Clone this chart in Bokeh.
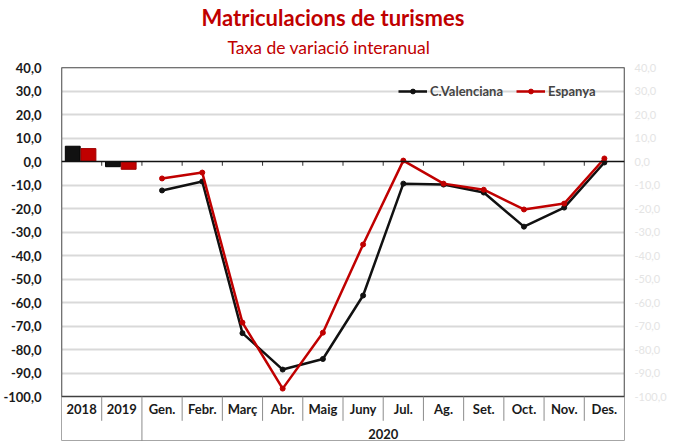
from bokeh.plotting import figure
from bokeh.models import (FactorRange, Range1d, FixedTicker, LinearAxis, Title,
                          Legend, LegendItem, Span)
from bokeh.transform import dodge
from bokeh.core.properties import value
from bokeh.embed import file_html
from bokeh.resources import INLINE

# ---- data ----
categories = ["2018", "2019", "Gen.", "Febr.", "Març", "Abr.", "Maig", "Juny",
              "Jul.", "Ag.", "Set.", "Oct.", "Nov.", "Des."]
bar_years = ["2018", "2019"]
bar_cv = [6.5, -2.2]
bar_esp = [5.5, -3.3]
months = categories[2:]
cv_2020 = [-12.3, -8.5, -73.0, -88.5, -84.0, -57.0, -9.4, -9.8, -13.2, -27.7, -19.6, -0.4]
esp_2020 = [-7.2, -4.7, -68.5, -96.6, -72.8, -35.3, 0.4, -9.4, -12.0, -20.4, -17.9, 1.3]
y_ticks = [40, 30, 20, 10, 0, -10, -20, -30, -40, -50, -60, -70, -80, -90, -100]
group_label = "2020"
title_text = "Matriculacions de turismes"
subtitle_text = "Taxa de variació interanual"

FONT = "Lato"
BLACK = "#111111"
RED = "#c00000"
Y_MIN_PLOT = -100
Y_MAX_PLOT = 40
Y_BOTTOM = -119.1

p = figure(width=676, height=441, x_range=FactorRange(*categories),
           y_range=Range1d(Y_BOTTOM, Y_MAX_PLOT),
           output_backend="svg", toolbar_location=None,
           x_axis_location=None, min_border_left=60, min_border_right=52,
           min_border_bottom=0, min_border_top=67)
p.background_fill_color = "white"
p.border_fill_color = "white"
p.outline_line_color = "#a6a6a6"
p.outline_line_width = 1
p.xgrid.grid_line_color = None
p.ygrid.ticker = FixedTicker(ticks=[t for t in y_ticks if Y_MIN_PLOT < t < Y_MAX_PLOT and t != 0])
p.ygrid.grid_line_color = "#d9d9d9"
p.ygrid.grid_line_width = 2

labels = {t: f"{t:.1f}".replace(".", ",") for t in y_ticks}
yax = p.yaxis[0]
yax.ticker = FixedTicker(ticks=y_ticks)
yax.major_label_overrides = labels
yax.axis_line_color = None
yax.major_tick_line_color = None
yax.minor_tick_line_color = None
yax.major_label_standoff = 14
yax.major_label_text_font = FONT
yax.major_label_text_font_style = "bold"
yax.major_label_text_font_size = "13px"
yax.major_label_text_color = "#1a1a1a"

rax = LinearAxis(ticker=FixedTicker(ticks=y_ticks), major_label_overrides=labels)
rax.axis_line_color = None
rax.major_tick_line_color = None
rax.minor_tick_line_color = None
rax.major_label_standoff = 4
rax.major_label_text_font = FONT
rax.major_label_text_font_size = "11px"
rax.major_label_text_color = "#e4e4e4"
p.add_layout(rax, "right")

# plot box
n = len(categories)
p.quad(left=0, right=n, top=Y_MAX_PLOT, bottom=Y_MIN_PLOT, fill_color=None,
       line_color="#404040", line_width=1.5)
p.add_layout(Span(location=0, dimension="width", line_color="#111111", line_width=1.5))
bounds = list(range(1, n))
p.segment(x0=bounds, y0=[0] * len(bounds), x1=bounds, y1=[-1.8] * len(bounds),
          line_color="#333333", line_width=1)

# category separators below the axis
short = [b for b in bounds if b != len(bar_years)]
p.segment(x0=short, y0=[Y_MIN_PLOT] * len(short), x1=short, y1=[-110.3] * len(short),
          line_color="#8c8c8c", line_width=1)
p.segment(x0=[len(bar_years)], y0=[Y_MIN_PLOT], x1=[len(bar_years)], y1=[Y_BOTTOM],
          line_color="#8c8c8c", line_width=1)

# bars
p.vbar(x=dodge("x", -0.22, range=p.x_range), top="top", width=0.37, bottom=0,
       source=dict(x=bar_years, top=bar_cv), fill_color=BLACK, line_color="#000000")
p.vbar(x=dodge("x", 0.17, range=p.x_range), top="top", width=0.37, bottom=0,
       source=dict(x=bar_years, top=bar_esp), fill_color=RED, line_color="#a00000")

# lines
l1 = p.line(months, cv_2020, line_color=BLACK, line_width=2.5)
m1 = p.scatter(months, cv_2020, marker="circle", size=5, fill_color=BLACK, line_color=BLACK)
l2 = p.line(months, esp_2020, line_color=RED, line_width=2.5)
m2 = p.scatter(months, esp_2020, marker="circle", size=5, fill_color=RED, line_color=RED)

# category labels
p.text(x=categories, y=[-105.1] * n, text=categories, text_align="center",
       text_baseline="middle", text_font=value(FONT), text_font_style="bold",
       text_font_size="13px", text_color="#1a1a1a")
mid = (len(bar_years) + n) / 2
p.text(x=[mid], y=[-115.7], text=[group_label], text_align="center",
       text_baseline="middle", text_font=value(FONT), text_font_style="bold",
       text_font_size="13px", text_color="#1a1a1a")

legend = Legend(items=[LegendItem(label="C.Valenciana", renderers=[l1, m1]),
                       LegendItem(label="Espanya", renderers=[l2, m2])],
                orientation="horizontal", location=(337, 342))
legend.label_text_font = FONT
legend.label_text_font_style = "bold"
legend.label_text_font_size = "13px"
legend.glyph_width = 29
legend.glyph_height = 12
legend.label_standoff = 3
legend.spacing = 13
legend.padding = 2
legend.border_line_color = None
legend.background_fill_alpha = 0
legend.label_height = 14
p.add_layout(legend)

p.add_layout(Title(text=subtitle_text, align="left", text_color=RED,
                   text_font=FONT, text_font_size="17.5px", text_font_style="normal",
                   offset=166, standoff=19), "above")
p.add_layout(Title(text=title_text, align="left", text_color=RED,
                   text_font=FONT, text_font_size="22px", text_font_style="bold",
                   offset=140, standoff=-10), "above")

open("out.html", "w").write(file_html(p, INLINE))
